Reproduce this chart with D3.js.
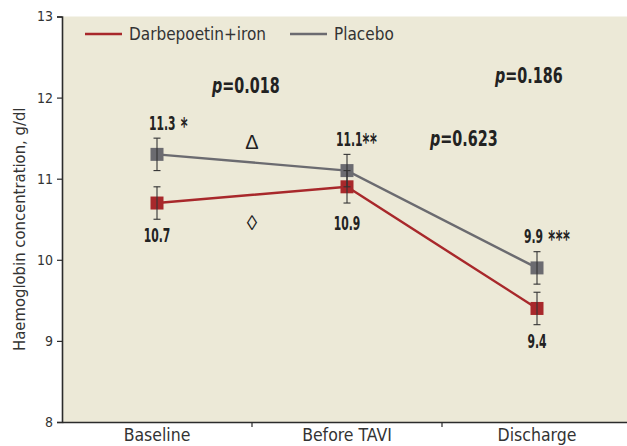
<!DOCTYPE html>
<html>
<head>
<meta charset="utf-8">
<script src="https://cdn.jsdelivr.net/npm/d3@7"></script>
<style>
  html, body { margin: 0; padding: 0; background: #fff; }
  svg { display: block; }
</style>
</head>
<body>
<svg id="chart" width="627" height="446"></svg>
<script>
// Haemoglobin concentration over time, two treatment arms
const categories = ["Baseline", "Before TAVI", "Discharge"];
const darbepoetin = [10.7, 10.9, 9.4];
const placebo = [11.3, 11.1, 9.9];
const darbepoetinErr = [0.2, 0.2, 0.2];
const placeboErr = [0.2, 0.2, 0.2];
const placeboLabels = ["11.3", "11.1", "9.9"];
const placeboMarks = [" *", "**", " ***"];
const darbepoetinLabels = ["10.7", "10.9", "9.4"];
const yTicks = [8, 9, 10, 11, 12, 13];
const seriesNames = ["Darbepoetin+iron", "Placebo"];
const pValues = ["0.018", "0.623", "0.186"];

const colors = { red: "#a8282b", gray: "#6b6b70", axis: "#2b2b2b", bg: "#ece9d7" };
const narrow = "'Liberation Sans Narrow', 'DejaVu Sans Condensed', sans-serif";

const svg = d3.select("#chart");
const mLeft = 62, mTop = 16.5, mBottom = 422, mRight = 632;

const x = d3.scaleBand().domain(categories).range([mLeft, mRight]);
const y = d3.scaleLinear().domain([8, 13]).range([mBottom, mTop]);
const cx = c => x(c) + x.bandwidth() / 2;

// horizontally compressed bold text (heavy condensed look)
function condensed(px, py, str, size, sx, anchor) {
  return svg.append("text")
    .attr("transform", `translate(${px},${py}) scale(${sx},1)`)
    .attr("text-anchor", anchor || "start")
    .attr("font-family", narrow).attr("font-weight", "bold")
    .attr("font-size", size).attr("fill", "#222")
    .text(str);
}

// plot background
svg.append("rect")
  .attr("x", mLeft).attr("y", mTop)
  .attr("width", mRight - mLeft).attr("height", mBottom - mTop)
  .attr("fill", colors.bg);

// y axis
const yAxis = svg.append("g")
  .attr("transform", `translate(${mLeft},0)`)
  .call(d3.axisLeft(y).tickValues(yTicks).tickSize(5).tickPadding(4).tickFormat(d3.format("d")));
yAxis.select(".domain").attr("stroke", colors.axis).attr("stroke-width", 1.6);
yAxis.selectAll(".tick line").attr("stroke", colors.axis).attr("stroke-width", 1.2);
yAxis.selectAll(".tick text")
  .attr("font-family", narrow).attr("font-size", 14).attr("fill", "#333");

// x axis
const xAxis = svg.append("g")
  .attr("transform", `translate(0,${mBottom})`)
  .call(d3.axisBottom(x).tickSize(0).tickPadding(7));
xAxis.select(".domain").attr("stroke", colors.axis).attr("stroke-width", 1.6);
xAxis.selectAll(".tick text")
  .attr("font-family", narrow).attr("font-size", 17.5).attr("fill", "#333");
// band boundary ticks
xAxis.selectAll(".bound")
  .data(categories.slice(1))
  .enter().append("line")
  .attr("x1", d => x(d)).attr("x2", d => x(d))
  .attr("y1", 0).attr("y2", 5)
  .attr("stroke", colors.axis).attr("stroke-width", 1.2);

// y axis title
svg.append("text")
  .attr("transform", `translate(25,${(mTop + mBottom) / 2 + 10}) rotate(-90)`)
  .attr("text-anchor", "middle")
  .attr("font-family", narrow)
  .attr("font-size", 16.5).attr("fill", "#333")
  .text("Haemoglobin concentration, g/dl");

// series
const series = [
  { name: seriesNames[1], values: placebo, err: placeboErr, color: colors.gray },
  { name: seriesNames[0], values: darbepoetin, err: darbepoetinErr, color: colors.red }
];

const line = d3.line().x((d, i) => cx(categories[i])).y(d => y(d));

series.forEach(s => {
  svg.append("path")
    .datum(s.values)
    .attr("d", line)
    .attr("fill", "none")
    .attr("stroke", s.color)
    .attr("stroke-width", 2.4);
});

series.forEach(s => {
  svg.selectAll(null)
    .data(s.values)
    .enter().append("rect")
    .attr("x", (d, i) => cx(categories[i]) - 6.5)
    .attr("y", d => y(d) - 6.5)
    .attr("width", 13).attr("height", 13)
    .attr("fill", s.color);
});

// error bars
series.forEach(s => {
  const g = svg.append("g").attr("stroke", "#333").attr("stroke-width", 1.1);
  s.values.forEach((v, i) => {
    const px = cx(categories[i]);
    const y1 = y(v + s.err[i]), y2 = y(v - s.err[i]);
    g.append("line").attr("x1", px).attr("x2", px).attr("y1", y1).attr("y2", y2);
    g.append("line").attr("x1", px - 3.5).attr("x2", px + 3.5).attr("y1", y1).attr("y2", y1);
    g.append("line").attr("x1", px - 3.5).attr("x2", px + 3.5).attr("y1", y2).attr("y2", y2);
  });
});

// value labels: placebo above the upper whisker, darbepoetin below the lower one
const placeboDx = [-8, -11, -13];
placebo.forEach((v, i) => {
  const t = condensed(cx(categories[i]) + placeboDx[i], y(v + placeboErr[i]) - 8.5, placeboLabels[i], 19, 0.63);
  // significance asterisks, enlarged so they reach cap height
  t.append("tspan")
    .attr("font-size", 23).attr("dy", 4)
    .attr("letter-spacing", 1)
    .text(placeboMarks[i]);
});
const darbeDy = [23, 27, 23];
darbepoetin.forEach((v, i) => {
  condensed(cx(categories[i]), y(v - darbepoetinErr[i]) + darbeDy[i], darbepoetinLabels[i], 19, 0.63, "middle");
});

// significance symbols between baseline and before TAVI
svg.append("text")
  .attr("x", x(categories[1])).attr("y", 149)
  .attr("text-anchor", "middle")
  .attr("font-family", "'Liberation Sans', Arial, sans-serif").attr("font-size", 20).attr("fill", "#222")
  .text("\u0394");
svg.append("text")
  .attr("x", x(categories[1])).attr("y", 230)
  .attr("text-anchor", "middle")
  .attr("font-family", "'Liberation Sans', Arial, sans-serif").attr("font-size", 21).attr("fill", "#222")
  .text("\u25CA");

// p-values
const pPos = [{ x: 212, y: 93 }, { x: 430, y: 146 }, { x: 495, y: 83 }];
pValues.forEach((p, i) => {
  const t = svg.append("text")
    .attr("transform", `translate(${pPos[i].x},${pPos[i].y}) scale(0.76,1)`)
    .attr("font-family", narrow).attr("font-weight", "bold")
    .attr("font-size", 21).attr("fill", "#222");
  t.append("tspan").attr("font-style", "italic").text("p");
  t.append("tspan").text("=" + p);
});

// legend
const legend = [
  { name: seriesNames[0], color: colors.red, x: 85 },
  { name: seriesNames[1], color: colors.gray, x: 290 }
];
legend.forEach(l => {
  svg.append("line")
    .attr("x1", l.x).attr("x2", l.x + 37)
    .attr("y1", 34).attr("y2", 34)
    .attr("stroke", l.color).attr("stroke-width", 2.4);
  svg.append("text")
    .attr("x", l.x + 44).attr("y", 40)
    .attr("font-family", narrow)
    .attr("font-size", 17).attr("fill", "#333")
    .text(l.name);
});
</script>
</body>
</html>
